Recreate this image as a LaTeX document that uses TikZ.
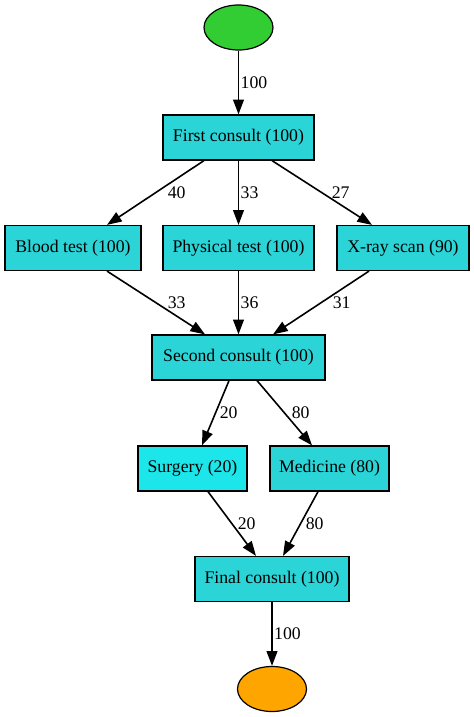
\documentclass[tikz,border=0pt]{standalone}
\usepackage{fontspec}
\setmainfont{Liberation Serif}
\usetikzlibrary{arrows.meta,
                shapes.geometric}

\definecolor{boxcyan}{RGB}{42,212,215}
\definecolor{brightcyan}{RGB}{28,230,234}
\definecolor{startgreen}{RGB}{50,205,50}
\definecolor{endorange}{RGB}{255,165,0}

\begin{document}
\begin{tikzpicture}[
        x=0.75pt, y=-0.75pt,
        every node/.style={font=\fontsize{13.3}{15}\selectfont},
        activity/.style={rectangle, minimum height=33.75pt, inner sep=0pt, text centered, draw=black, line width=0.9pt, fill=boxcyan},
        terminal/.style={ellipse, minimum width=51.75pt, minimum height=33.75pt, inner sep=0pt, draw=black, line width=0.9pt},
        flow/.style={arrows=-{Triangle[length=11pt, width=8pt]}, line width=1.2pt},
        count/.style={anchor=west, inner sep=0pt}
        ]
        \useasboundingbox (0,0) rectangle (474,717);

        \node (start)    [terminal, fill=startgreen]                         at (238.5,27.5)  {};
        \node (first)    [activity, minimum width=113.25pt]                  at (238.5,137.5) {First consult (100)};
        \node (blood)    [activity, minimum width=102pt]                     at (73,248)      {Blood test (100)};
        \node (physical) [activity, minimum width=113.25pt]                  at (238.5,248)   {Physical test (100)};
        \node (xray)     [activity, minimum width=99pt]                      at (403,248)     {X-ray scan (90)};
        \node (second)   [activity, minimum width=129.75pt]                  at (238.5,357.5) {Second consult (100)};
        \node (surgery)  [activity, minimum width=81.75pt, fill=brightcyan]  at (192.5,468.5) {Surgery (20)};
        \node (medicine) [activity, minimum width=89.25pt]                   at (329.5,468.5) {Medicine (80)};
        \node (final)    [activity, minimum width=115.5pt]                   at (272,579)     {Final consult (100)};
        \node (end)      [terminal, fill=endorange]                          at (272,689)     {};

        \draw [flow] (start.south) -- node[count, midway, xshift=1pt] {100} (first.north);

        \draw [flow] ([xshift=-25.9pt]first.south) -- node[count, midway, xshift=8.6pt]  {40} ([xshift=25.5pt]blood.north);
        \draw [flow] (first.south)                 -- node[count, midway, xshift=1pt]    {33} (physical.north);
        \draw [flow] ([xshift=25.1pt]first.south)  -- node[count, midway, xshift=6.75pt] {27} ([xshift=-23.25pt]xray.north);

        \draw [flow] ([xshift=25.5pt]blood.south)  -- node[count, midway, xshift=8.25pt] {33} ([xshift=-25.1pt]second.north);
        \draw [flow] (physical.south)              -- node[count, midway, xshift=1pt]    {36} (second.north);
        \draw [flow] ([xshift=-25.5pt]xray.south)  -- node[count, midway, xshift=8.25pt] {31} ([xshift=25.9pt]second.north);

        \draw [flow] ([xshift=-7.1pt]second.south) -- node[count, midway, xshift=2.6pt]  {20} ([xshift=7.1pt]surgery.north);
        \draw [flow] ([xshift=13.9pt]second.south) -- node[count, midway, xshift=4.9pt]  {80} ([xshift=-13.1pt]medicine.north);

        \draw [flow] ([xshift=11.6pt]surgery.south)  -- node[count, midway, xshift=3.75pt] {20} ([xshift=-12pt]final.north);
        \draw [flow] ([xshift=-8.6pt]medicine.south) -- node[count, midway, xshift=3.4pt]  {80} ([xshift=8.25pt]final.north);

        \draw [flow] (final.south) -- node[count, midway, xshift=1pt] {100} (end.north);

    \end{tikzpicture}
\end{document}
